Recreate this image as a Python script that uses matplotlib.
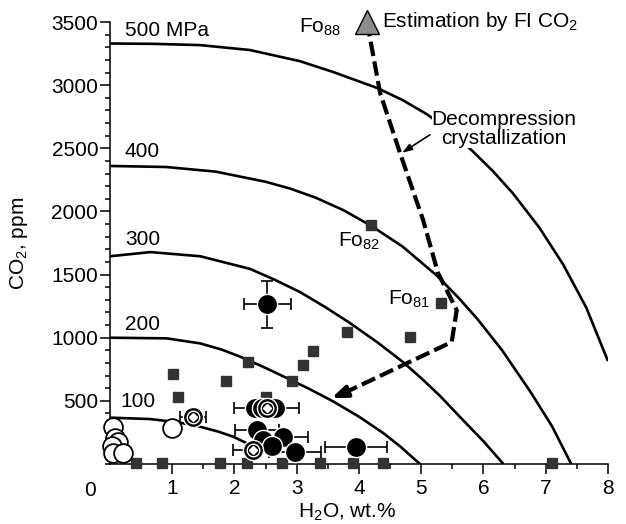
import matplotlib
matplotlib.use('Agg')
import matplotlib.pyplot as plt

plt.rcParams['font.family'] = ['Liberation Sans', 'DejaVu Sans']
plt.rcParams['mathtext.fontset'] = 'custom'
plt.rcParams['mathtext.rm'] = 'Liberation Sans'

# isobars (H2O wt.%, CO2 ppm)
iso500_x = [0, 0.7, 1.45, 2.25, 3.05, 3.58, 4.29, 4.7, 5.09, 5.45, 5.82, 6.15, 6.47,
            6.9, 7.28, 7.65, 8.0]
iso500_y = [3330, 3327, 3317, 3278, 3190, 3105, 2978, 2882, 2770, 2640, 2480, 2320,
            2145, 1870, 1580, 1240, 815]
iso400_x = [0, 0.9, 1.7, 2.5, 2.9, 3.3, 3.75, 4.2, 4.7, 5.25, 5.6, 5.9, 6.3, 6.75,
            7.1, 7.41]
iso400_y = [2360, 2352, 2315, 2235, 2180, 2110, 2010, 1885, 1722, 1492, 1316, 1150,
            900, 575, 300, 0]
iso300_x = [0, 0.65, 1.45, 2.25, 2.65, 3.05, 3.45, 3.85, 4.3, 4.7, 5.0, 5.3, 5.62,
            6.0, 6.32]
iso300_y = [1645, 1678, 1645, 1545, 1458, 1362, 1245, 1118, 962, 810, 680, 540, 374,
            180, 0]
iso200_x = [0, 0.91, 1.45, 1.8, 2.09, 2.45, 2.78, 3.2, 3.58, 4.0, 4.39, 4.66, 4.98]
iso200_y = [1000, 995, 955, 905, 850, 772, 695, 595, 497, 375, 245, 140, 0]
iso100_x = [0, 0.64, 1.1, 1.45, 1.75, 1.98, 2.2, 2.4]
iso100_y = [367, 356, 330, 295, 255, 216, 164, 110]

# decompression crystallization path
path_x = [4.13, 4.34, 4.66, 5.03, 5.27, 5.57, 5.49, 3.75]
path_y = [3500, 2937, 2462, 1932, 1512, 1219, 966, 560]
arrow_tip = (3.56, 522)

# melt inclusions (squares)
sq_x = [1.01, 1.1, 1.86, 2.21, 2.5, 2.92, 3.1, 3.26, 3.81, 4.82, 5.32, 4.2,
        0.42, 0.83, 1.77, 2.2, 2.77, 3.37, 3.9, 4.38, 7.1]
sq_y = [710, 533, 657, 805, 533, 657, 784, 895, 1043, 1008, 1272, 1892,
        5, 5, 5, 5, 5, 5, 5, 5, 5]

# black circles with x error
bc_x = [2.53, 2.33, 2.44, 2.65, 2.36, 2.78, 2.46, 2.6, 2.97, 3.95]
bc_y = [1264, 442, 442, 442, 269, 216, 190, 143, 98, 134]
bc_xerr = [0.38, 0, 0, 0, 0.35, 0.4, 0, 0, 0.42, 0.5]
bc_yerr = [185, 0, 0, 0, 0, 0, 0, 0, 0, 0]

# black circles with white diamond
dc_x = [1.34, 2.52, 2.3]
dc_y = [375, 442, 111]
dc_xerr = [0.21, 0.52, 0.32]

# open circles
oc_x = [0.05, 0.08, 0.13, 0.03, 0.05, 0.21, 0.99]
oc_y = [295, 203, 177, 143, 90, 85, 282]

# FI CO2 estimate
tri_x = [4.13]
tri_y = [3500]

fig = plt.figure(figsize=(6.26, 5.24), dpi=100)
ax = fig.add_axes([0.1757, 0.1145, 0.7955, 0.8435])
ax.set_xlim(0, 8)
ax.set_ylim(0, 3500)

for xs, ys in [(iso500_x, iso500_y), (iso400_x, iso400_y), (iso300_x, iso300_y),
               (iso200_x, iso200_y), (iso100_x, iso100_y)]:
    ax.plot(xs, ys, color='black', lw=1.9, zorder=2, solid_capstyle='butt',
            solid_joinstyle='round')

ax.plot(path_x, path_y, color='black', lw=3.0, dashes=(3.5, 1.3), zorder=3)
ax.annotate('', xy=arrow_tip, xytext=(path_x[-1], path_y[-1]),
            arrowprops=dict(arrowstyle='-|>,head_length=0.9,head_width=0.35',
                            color='black', lw=3.0, shrinkA=0, shrinkB=0), zorder=3)

ax.plot(sq_x, sq_y, 's', color='#333333', ms=7.5, mec='#333333', zorder=3,
        clip_on=False)

ax.errorbar(bc_x, bc_y, xerr=bc_xerr, yerr=bc_yerr, fmt='none', ecolor='black',
            elinewidth=1.2, capsize=4, capthick=1.2, zorder=3)
ax.errorbar(dc_x, dc_y, xerr=dc_xerr, fmt='none', ecolor='black',
            elinewidth=1.2, capsize=4, capthick=1.2, zorder=3)

ax.plot(bc_x, bc_y, 'o', color='black', ms=14.5, mec='white', mew=1.0, zorder=4)
ax.plot(dc_x, dc_y, 'o', color='black', ms=14.5, mec='white', mew=1.0, zorder=5)
ax.plot(dc_x, dc_y, 'o', color='none', ms=9.0, mec='white', mew=1.0, zorder=5)
ax.plot(dc_x, dc_y, 'D', color='white', ms=3.6, mec='white', zorder=5)
ax.plot(oc_x, oc_y, 'o', color='white', ms=13.5, mec='black', mew=1.3, zorder=4,
        clip_on=False)

ax.plot(tri_x, tri_y, '^', color='#8c8c8c', ms=17, mec='black', mew=1.0, zorder=6,
        clip_on=False)

fs = 15
ax.text(0.24, 3436, '500 MPa', fontsize=fs, va='center')
ax.text(0.24, 2472, '400', fontsize=fs, va='center')
ax.text(0.24, 1777, '300', fontsize=fs, va='center')
ax.text(0.24, 1106, '200', fontsize=fs, va='center')
ax.text(0.16, 497, '100', fontsize=fs, va='center')
ax.text(3.71, 3460, 'Fo$_\\mathregular{88}$', fontsize=fs, ha='right', va='center')
ax.text(4.37, 3505, 'Estimation by FI CO$_\\mathregular{2}$', fontsize=fs, va='center')
ax.text(3.67, 1765, 'Fo$_\\mathregular{82}$', fontsize=fs, va='center')
ax.text(4.46, 1305, 'Fo$_\\mathregular{81}$', fontsize=fs, va='center')
ax.text(6.33, 2652, 'Decompression\ncrystallization', fontsize=fs, ha='center',
        va='center', linespacing=0.95,
        bbox=dict(facecolor='white', edgecolor='none', pad=0), zorder=5)
ax.annotate('', xy=(4.69, 2464), xytext=(5.14, 2607),
            arrowprops=dict(arrowstyle='-|>,head_length=0.6,head_width=0.2',
                            color='black', lw=1.2, shrinkA=0, shrinkB=0))
ax.text(-0.32, -206, '0', fontsize=fs, ha='center', va='center')

ax.set_xticks(range(1, 9))
ax.set_xticks([i + 0.5 for i in range(8)], minor=True)
ax.set_yticks(range(500, 3501, 500))
ax.set_yticks(range(0, 3501, 100), minor=True)
ax.tick_params(axis='both', which='major', direction='out', length=7.5, width=1.1,
               labelsize=fs)
ax.tick_params(axis='both', which='minor', direction='out', length=3.8, width=1.1)
ax.tick_params(axis='y', which='major', pad=1)
ax.tick_params(axis='x', which='major', pad=3)

for s in ['top', 'right']:
    ax.spines[s].set_visible(False)
for s in ['left', 'bottom']:
    ax.spines[s].set_linewidth(1.1)

ax.set_xlabel('H$_\\mathregular{2}$O, wt.%', fontsize=fs)
ax.set_ylabel('CO$_\\mathregular{2}$, ppm', fontsize=fs)
ax.xaxis.set_label_coords(0.476, -0.085)
ax.yaxis.set_label_coords(-0.16, 0.5)

fig.savefig('out.png', dpi=100)
